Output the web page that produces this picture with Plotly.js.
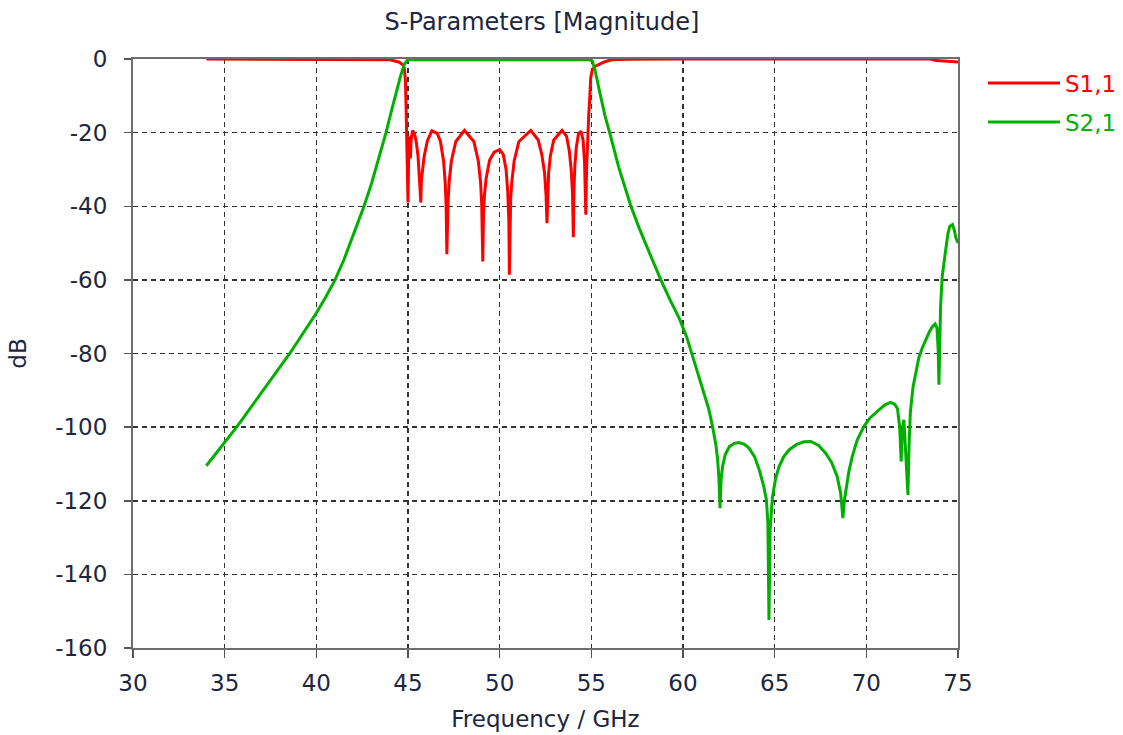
<!DOCTYPE html>
<html>
<head>
<meta charset="utf-8">
<script src="https://cdn.plot.ly/plotly-3.0.1.min.js"></script>
<style>html,body{margin:0;padding:0;background:#fff;}#chart{width:1123px;height:735px;}</style>
</head>
<body>
<div id="chart"></div>
<script>
// ---- S1,1 (reflection) ----
var freqS11 = [34.0, 36.0, 40.0, 43.0, 44.0, 44.5, 44.7, 44.8, 44.86, 44.9, 44.95, 45.0,
  45.03, 45.06, 45.1, 45.13, 45.17, 45.25, 45.35, 45.45, 45.55, 45.63, 45.68, 45.7,
  45.73, 45.79, 45.88, 46.06, 46.3, 46.6, 46.77, 46.94, 47.03, 47.08, 47.12,
  47.18, 47.24, 47.365, 47.61, 48.08, 48.59, 48.835, 48.96, 49.02, 49.08,
  49.12, 49.17, 49.26, 49.45, 49.7, 50.0, 50.2, 50.35, 50.44, 50.5, 50.53,
  50.57, 50.6, 50.66, 50.79, 51.05, 51.7, 52.1, 52.3, 52.45, 52.53, 52.58,
  52.62, 52.67, 52.76, 52.95, 53.4, 53.65, 53.8, 53.9, 53.97, 54.02,
  54.05, 54.1, 54.18, 54.3, 54.43, 54.55, 54.63, 54.68, 54.7,
  54.74, 54.8, 54.86, 54.92, 54.97, 55.05, 55.2, 55.4, 55.7, 56.1, 57.0,
  60.0, 65.0, 70.0, 73.5, 73.8, 74.2, 75.0];
var magS11 = [0, 0, 0, -0.05, -0.2, -0.8, -1.5, -2.5, -6, -14, -26, -39,
  -28, -21, -23, -27, -22, -19.4, -20.3, -22.5, -26.5, -32, -38, -39,
  -33, -30, -26.5, -22.2, -19.5, -20.2, -22.4, -27.7, -33.6, -40, -53,
  -39.6, -33.6, -27.7, -22.4, -19.4, -22.4, -27.7, -33.6, -39.6, -55,
  -42, -37, -32.5, -27.5, -25.3, -24.6, -26, -30, -36, -44, -58.6,
  -42, -38, -33.6, -27.7, -22.4, -19.4, -22, -26, -31, -37, -44.6,
  -36, -31, -26.5, -22, -19.4, -21, -25, -30, -36, -48.4,
  -36, -29, -24, -20.3, -19.6, -22, -28, -35, -42.3,
  -30, -20, -15, -10, -5, -3, -2, -1.5, -0.8, -0.2, -0.1,
  0, 0, 0, 0, -0.4, -0.6, -0.8];

// ---- S2,1 (transmission) ----
var freqS21 = [34.0, 34.5, 35.0, 35.65, 36.0, 36.5, 37.0, 37.5, 38.0, 38.55, 39.0, 39.5,
  40.0, 40.5, 41.0, 41.5, 42.0, 42.6, 43.0, 43.4, 43.8, 44.1, 44.4, 44.6, 44.8, 44.95,
  45.1, 50.0, 54.9, 55.05, 55.2, 55.5, 55.75, 56.0, 56.5, 57.16, 57.6, 58.2, 58.79,
  59.3, 59.79, 60.2, 60.52, 60.8, 61.16, 61.4, 61.61, 61.8, 61.89, 61.96, 62.02,
  62.08, 62.16, 62.3, 62.53, 62.8, 63.06, 63.35, 63.6, 63.9, 64.16, 64.4, 64.55,
  64.63, 64.69, 64.75, 64.88, 65.05, 65.24, 65.5, 65.78, 66.2, 66.6, 66.97, 67.4,
  67.78, 68.1, 68.41, 68.6, 68.72, 68.8, 68.87, 69.05, 69.23, 69.5, 69.87, 70.2,
  70.69, 71.0, 71.32, 71.55, 71.7, 71.82, 71.9, 71.97, 72.05, 72.12, 72.2, 72.27,
  72.33, 72.4, 72.55, 72.7, 72.87, 73.05, 73.23, 73.45, 73.6, 73.75, 73.85, 73.92,
  73.96, 74.0, 74.05, 74.14, 74.23, 74.33, 74.45, 74.55, 74.7, 74.8, 74.88, 75.0];
var magS21 = [-110.5, -107.4, -104.3, -100, -97.6, -94.2, -90.6, -87.2, -83.7, -80, -76.6, -72.9,
  -69, -64.8, -60.2, -54.6, -48.2, -40, -34, -27, -20, -14, -8, -4.5, -1.5, -0.4,
  -0.2, -0.1, -0.2, -0.5, -3, -10, -15.5, -20, -29.5, -40, -45.8, -53, -60,
  -65.5, -70.4, -75.5, -80.8, -85, -90.8, -95, -99.8, -105, -108.9, -114, -122,
  -114, -110.7, -107.5, -105.3, -104.4, -104.2, -104.7, -105.7, -108, -111.6, -116, -119.8,
  -126, -152.4, -128, -118.9, -114, -110.7, -108, -106.2, -104.7, -104, -103.9, -105,
  -107.1, -109.5, -113.4, -118, -124.7, -120, -117.9, -112, -108, -103.5, -99.8, -97.5,
  -95.3, -94, -93.3, -93.8, -95, -100, -109.3, -100, -98, -104, -110, -118.4,
  -105, -96, -89, -85, -81, -78.5, -76.3, -74, -72.7, -72, -73, -79,
  -88.5, -78, -67.2, -59, -55, -51.8, -47.5, -45.5, -45, -46.5, -48.5, -50];

var xTicks = [30, 35, 40, 45, 50, 55, 60, 65, 70, 75];
var yTicks = [0, -20, -40, -60, -80, -100, -120, -140, -160];

var FONT = 'DejaVu Sans, Verdana, sans-serif';
var TXT = '#1c2640';

var traces = [
  {x: freqS11, y: magS11, type: 'scatter', mode: 'lines',
   name: '<span style="color:#ff0000">S1,1</span>',
   line: {color: '#ff0000', width: 3}, legend: 'legend'},
  {x: freqS21, y: magS21, type: 'scatter', mode: 'lines',
   name: '<span style="color:#00b000">S2,1</span>',
   line: {color: '#00b000', width: 3}, legend: 'legend2'}
];

var gridStyle = {showgrid: true, gridcolor: '#333333', gridwidth: 1.5, griddash: '5px,4px'};

var layout = {
  width: 1123, height: 735,
  margin: {l: 133, r: 165, t: 59, b: 87, pad: 0},
  paper_bgcolor: '#ffffff', plot_bgcolor: '#ffffff',
  font: {family: FONT, size: 23, color: TXT},
  title: {text: 'S-Parameters [Magnitude]', font: {family: FONT, size: 24, color: TXT},
          x: 542 / 1123, xref: 'container', xanchor: 'center',
          y: 1 - 22 / 735, yref: 'container', yanchor: 'middle'},
  xaxis: Object.assign({
    range: [30, 75], tickmode: 'array', tickvals: xTicks, ticktext: xTicks.map(String),
    ticks: 'outside', ticklen: 8, tickwidth: 1.5, tickcolor: '#555',
    showline: true, linecolor: '#6e6e6e', linewidth: 2, mirror: true, zeroline: false,
    tickfont: {family: FONT, size: 23, color: TXT}, ticklabelstandoff: 5,
    title: {text: 'Frequency / GHz', font: {family: FONT, size: 23, color: TXT}, standoff: 16},
    automargin: false
  }, gridStyle),
  yaxis: Object.assign({
    range: [-160, 0], tickmode: 'array', tickvals: yTicks, ticktext: yTicks.map(String),
    ticks: 'outside', ticklen: 7, tickwidth: 1.5, tickcolor: '#555',
    showline: true, linecolor: '#6e6e6e', linewidth: 2, mirror: true, zeroline: false,
    tickfont: {family: FONT, size: 23, color: TXT}, ticklabelstandoff: 12,
    title: {text: 'dB', font: {family: FONT, size: 23, color: TXT}, standoff: 22},
    automargin: false
  }, gridStyle),
  showlegend: true,
  legend: {xref: 'container', yref: 'container', x: 983 / 1123, y: 1 - 83 / 735,
           xanchor: 'left', yanchor: 'middle', itemwidth: 72, bgcolor: 'rgba(0,0,0,0)',
           font: {family: FONT, size: 23}},
  legend2: {xref: 'container', yref: 'container', x: 983 / 1123, y: 1 - 122 / 735,
           xanchor: 'left', yanchor: 'middle', itemwidth: 72, bgcolor: 'rgba(0,0,0,0)',
           font: {family: FONT, size: 23}}
};

Plotly.newPlot('chart', traces, layout, {displayModeBar: false, staticPlot: true});
</script>
</body>
</html>
